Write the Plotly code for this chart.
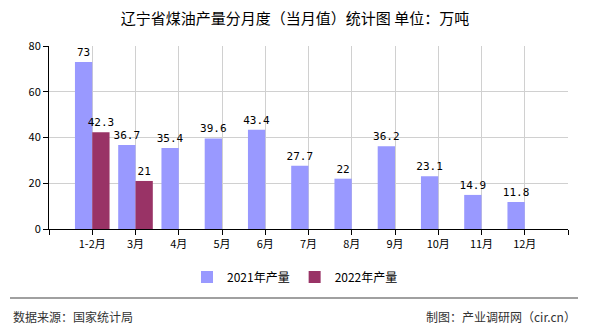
import plotly.graph_objects as go

categories = ["1-2月", "3月", "4月", "5月", "6月", "7月", "8月", "9月", "10月", "11月", "12月"]
values_2021 = [73, 36.7, 35.4, 39.6, 43.4, 27.7, 22, 36.2, 23.1, 14.9, 11.8]
values_2022 = [42.3, 21, None, None, None, None, None, None, None, None, None]
series_names = ["2021年产量", "2022年产量"]
y_ticks = [0, 20, 40, 60, 80]

title = "辽宁省煤油产量分月度（当月值）统计图 单位：万吨"
source_text = "数据来源：国家统计局"
credit_text = "制图：产业调研网（cir.cn）"

W, H = 590, 330
L, R, T, B = 49, 22, 46, 101
pw = W - L - R
ph = H - T - B

def px_to_paper_x(px):
    return (px - L) / pw

def px_to_paper_y(py):
    return (H - B - py) / ph

def fmt(v):
    return "" if v is None else f"{v:g}"

xs = list(range(len(categories)))
font_cjk = "Noto Sans CJK SC"
font_lbl = "DejaVu Sans Mono"

fig = go.Figure()
fig.add_trace(go.Bar(
    x=xs, y=values_2021, name=series_names[0],
    marker=dict(color="#9999FF", line=dict(width=0)),
    text=[fmt(v) for v in values_2021], textposition="outside",
    constraintext="none",
    textfont=dict(family=font_lbl, size=11, color="#000000"),
    cliponaxis=False,
))
fig.add_trace(go.Bar(
    x=xs, y=values_2022, name=series_names[1],
    marker=dict(color="#993366", line=dict(width=0)),
    text=[fmt(v) for v in values_2022], textposition="outside",
    constraintext="none",
    textfont=dict(family=font_lbl, size=11, color="#000000"),
    cliponaxis=False,
))

tickvals = [-1] + xs + [len(categories)]
ticktext = [""] + categories + [""]

fig.update_layout(
    width=W, height=H,
    margin=dict(l=L, r=R, t=T, b=B, pad=0),
    paper_bgcolor="#FFFFFF", plot_bgcolor="#FFFFFF",
    barmode="group", bargap=0.2, bargroupgap=0,
    font=dict(family=font_cjk, size=11, color="#000000"),
    title=dict(text=title, x=0.5, xref="container", xanchor="center",
               y=1 - 19 / H, yref="container", yanchor="middle",
               font=dict(family=font_cjk, size=15, color="#000000")),
    showlegend=True,
    legend=dict(orientation="h", xref="container", yref="container",
                x=0.5, xanchor="center", y=1 - 277 / H, yanchor="middle",
                font=dict(family=font_cjk, size=12, color="#000000"),
                itemwidth=30, traceorder="normal"),
    xaxis=dict(range=[-1, len(categories)], tickmode="array",
               tickvals=tickvals, ticktext=ticktext,
               showgrid=True, gridcolor="#D0D0D0", gridwidth=1,
               showline=True, linecolor="#000000", linewidth=1,
               ticks="outside", ticklen=5, tickcolor="#000000",
               tickfont=dict(family=font_cjk, size=11, color="#000000"),
               zeroline=False, fixedrange=True),
    yaxis=dict(range=[0, 80], tickmode="array", tickvals=y_ticks,
               showgrid=True, gridcolor="#D0D0D0", gridwidth=1,
               showline=True, linecolor="#000000", linewidth=1,
               ticks="outside", ticklen=5, tickcolor="#000000",
               tickfont=dict(family=font_cjk, size=11, color="#000000"),
               zeroline=False, fixedrange=True),
)

fig.add_shape(type="line", xref="paper", yref="paper",
              x0=px_to_paper_x(10), x1=px_to_paper_x(578),
              y0=px_to_paper_y(298), y1=px_to_paper_y(298),
              line=dict(color="#808080", width=1.5))

fig.add_annotation(text=source_text, xref="paper", yref="paper",
                   x=px_to_paper_x(11), y=px_to_paper_y(316),
                   xanchor="left", yanchor="middle", showarrow=False,
                   font=dict(family=font_cjk, size=12, color="#333333"))
fig.add_annotation(text=credit_text, xref="paper", yref="paper",
                   x=px_to_paper_x(578), y=px_to_paper_y(316),
                   xanchor="right", yanchor="middle", showarrow=False,
                   font=dict(family=font_cjk, size=12, color="#333333"))

fig.write_html("out.html", config={"displayModeBar": False})
